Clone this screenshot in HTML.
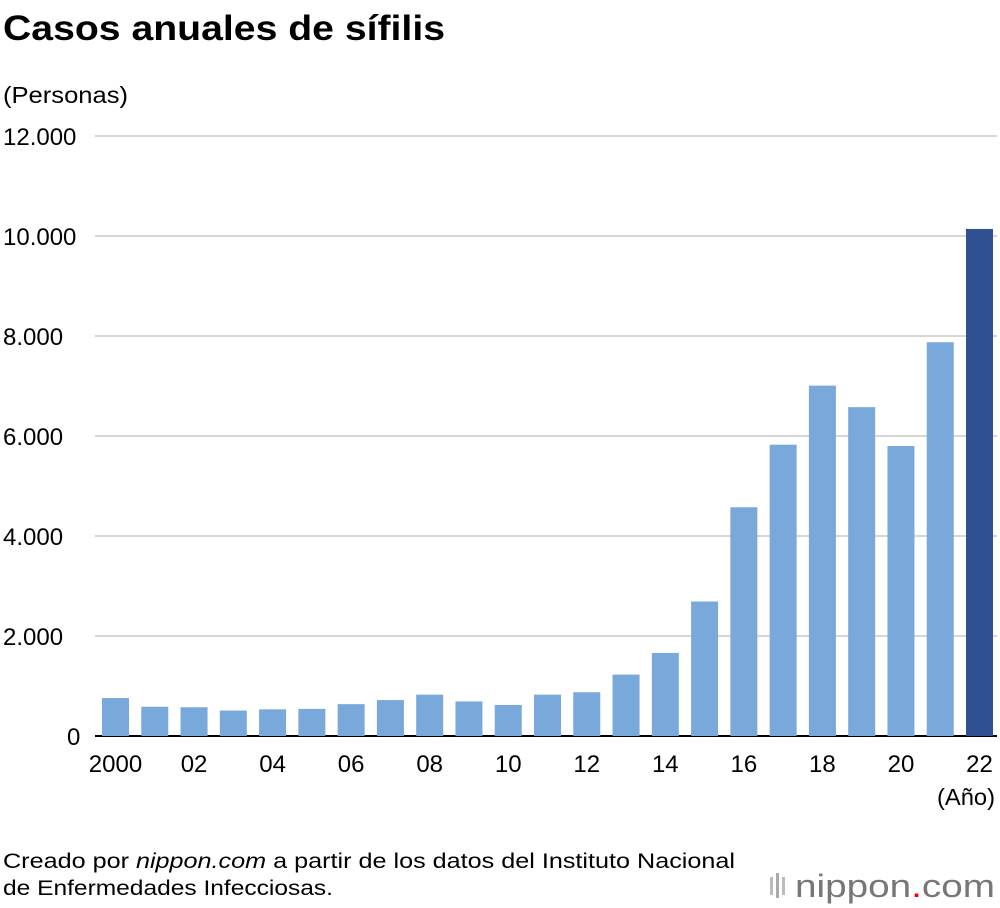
<!DOCTYPE html>
<html><head><meta charset="utf-8">
<style>
body{margin:0;background:#fff;width:1000px;height:908px;overflow:hidden;font-family:"Liberation Sans",sans-serif;}
svg{display:block}
</style></head>
<body>
<svg id="chart" width="1000" height="908">
<text x="3" y="40" font-size="35" font-weight="bold" fill="#000" textLength="442" lengthAdjust="spacingAndGlyphs">Casos anuales de sífilis</text>
<text x="3" y="103" font-size="23" fill="#000" textLength="125" lengthAdjust="spacingAndGlyphs">(Personas)</text>
<g id="grid"></g>
<g id="bars"></g>
<g id="labels"></g>
<text x="995" y="805" font-size="23" text-anchor="end" fill="#000" textLength="58" lengthAdjust="spacingAndGlyphs">(Año)</text>
<text x="3" y="868" font-size="21" fill="#000" textLength="732" lengthAdjust="spacingAndGlyphs">Creado por <tspan font-style="italic">nippon.com</tspan> a partir de los datos del Instituto Nacional</text>
<text x="3" y="895" font-size="21" fill="#000" textLength="330" lengthAdjust="spacingAndGlyphs">de Enfermedades Infecciosas.</text>
<g>
<rect x="770" y="877" width="3" height="18" fill="#bbb"/><rect x="776" y="873" width="3" height="25" fill="#aaa"/><rect x="782" y="877" width="3" height="18" fill="#bbb"/>
<text x="795" y="897" font-size="32" fill="#777" textLength="200" lengthAdjust="spacingAndGlyphs">nippon<tspan fill="#e60012">.</tspan>com</text>
</g>
</svg>
<script>
const years = ["2000","01","02","03","04","05","06","07","08","09","10","11","12","13","14","15","16","17","18","19","20","21","22"];
const cases = [759,585,575,509,533,543,637,719,827,691,621,827,875,1228,1661,2690,4575,5826,7007,6577,5800,7875,10141];
const yTicks = [0,2000,4000,6000,8000,10000,12000];
const yTickLabels = ["0","2.000","4.000","6.000","8.000","10.000","12.000"];
const xLabelShown = ["2000","02","04","06","08","10","12","14","16","18","20","22"];
const NS="http://www.w3.org/2000/svg";
const x0=95,x1=997,yBase=736,yTop=136,yMax=12000;
const y=v=>yBase-(v/yMax)*(yBase-yTop);
const step=(993-102-27)/(years.length-1);
const bx=i=>102+i*step;
const bw=27;
const grid=document.getElementById('grid'),bars=document.getElementById('bars'),labels=document.getElementById('labels');
yTicks.forEach((t,i)=>{
  const l=document.createElementNS(NS,'line');
  l.setAttribute('x1',x0);l.setAttribute('x2',x1);l.setAttribute('y1',y(t));l.setAttribute('y2',y(t));
  l.setAttribute('stroke',t===0?'#000':'#c8c8c8');l.setAttribute('stroke-width',t===0?2:1.5);
  
  
  grid.appendChild(l);
  const tx=document.createElementNS(NS,'text');
  tx.setAttribute('x',t===0?67:3);tx.setAttribute('y',y(t)+9);tx.setAttribute('font-size','24');
  tx.textContent=yTickLabels[i];
  
  
  labels.appendChild(tx);
});
cases.forEach((v,i)=>{
  const r=document.createElementNS(NS,'rect');
  r.setAttribute('x',bx(i));r.setAttribute('width',bw);r.setAttribute('y',y(v));r.setAttribute('height',yBase-y(v));
  r.setAttribute('fill',i===cases.length-1?'#2f5191':'#78a9da');
  
  
  bars.appendChild(r);
  if(xLabelShown.includes(years[i])){
    const tx=document.createElementNS(NS,'text');
    tx.setAttribute('x',bx(i)+bw/2);tx.setAttribute('y',772);tx.setAttribute('font-size','24');tx.setAttribute('text-anchor','middle');
    tx.textContent=years[i];
    
    
    labels.appendChild(tx);
  }
});
</script>
</body></html>
